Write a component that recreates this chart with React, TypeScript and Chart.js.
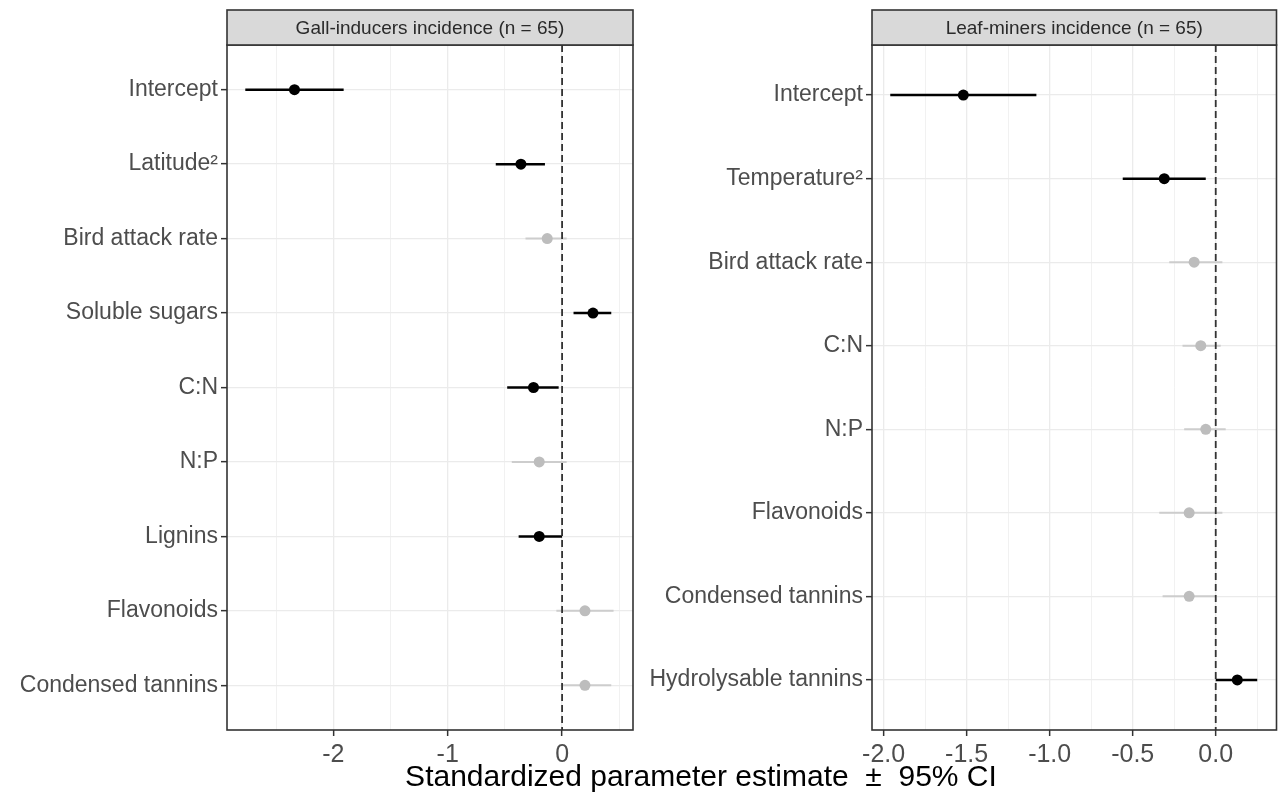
import React, { useEffect, useRef } from "react";
import { Chart, registerables } from "chart.js";

Chart.register(...registerables);

// ---------- Data ----------
const LEFT_TITLE = "Gall-inducers incidence (n = 65)";
const LEFT_LABELS = [
  "Intercept",
  "Latitude²",
  "Bird attack rate",
  "Soluble sugars",
  "C:N",
  "N:P",
  "Lignins",
  "Flavonoids",
  "Condensed tannins",
];
const LEFT_EST = [-2.34, -0.36, -0.13, 0.27, -0.25, -0.2, -0.2, 0.2, 0.2];
const LEFT_LO = [-2.77, -0.58, -0.32, 0.1, -0.48, -0.44, -0.38, -0.05, -0.01];
const LEFT_HI = [-1.91, -0.15, 0.04, 0.43, -0.03, 0.04, 0.0, 0.45, 0.43];
const LEFT_SIG = [true, true, false, true, true, false, true, false, false];
const LEFT_MAJOR = [-2, -1, 0];
const LEFT_MINOR = [-2.5, -1.5, -0.5, 0.5];
const LEFT_RANGE = [-2.93, 0.62];

const RIGHT_TITLE = "Leaf-miners incidence (n = 65)";
const RIGHT_LABELS = [
  "Intercept",
  "Temperature²",
  "Bird attack rate",
  "C:N",
  "N:P",
  "Flavonoids",
  "Condensed tannins",
  "Hydrolysable tannins",
];
const RIGHT_EST = [-1.52, -0.31, -0.13, -0.09, -0.06, -0.16, -0.16, 0.13];
const RIGHT_LO = [-1.96, -0.56, -0.28, -0.2, -0.19, -0.34, -0.32, 0.0];
const RIGHT_HI = [-1.08, -0.06, 0.04, 0.03, 0.06, 0.04, 0.0, 0.25];
const RIGHT_SIG = [true, true, false, false, false, false, false, true];
const RIGHT_MAJOR = [-2, -1.5, -1, -0.5, 0];
const RIGHT_MINOR = [-1.75, -1.25, -0.75, -0.25, 0.25];
const RIGHT_RANGE = [-2.07, 0.366];

const X_TITLE = "Standardized parameter estimate ± 95% CI";

// ---------- Styles ----------
const FONT = "'Liberation Sans', Arial, sans-serif";
const SIG_COLOR = "#000000";
const NS_POINT = "#bdbdbd";
const NS_LINE = "#cdcdcd";
const FRAME = "#333333";
const GRID = "#ebebeb";

type PanelProps = {
  title: string;
  labels: string[];
  est: number[];
  lo: number[];
  hi: number[];
  sig: boolean[];
  major: number[];
  minor: number[];
  range: number[];
  decimals: number;
  width: number;
  height: number;
  yAxisWidth: number;
  padRight: number;
};

const stripPlugin = {
  id: "stripFrame",
  afterDraw(chart: any, _args: any, opts: any) {
    const { ctx, chartArea } = chart;
    const { left, right, top, bottom } = chartArea;
    ctx.save();
    ctx.strokeStyle = FRAME;
    ctx.lineWidth = 1.6;
    ctx.strokeRect(left, top, right - left, bottom - top);
    const sTop = 10;
    ctx.fillStyle = "#d9d9d9";
    ctx.fillRect(left, sTop, right - left, top - sTop);
    ctx.strokeRect(left, sTop, right - left, top - sTop);
    ctx.fillStyle = "#2a2a2a";
    ctx.font = `19px ${FONT}`;
    ctx.textAlign = "center";
    ctx.textBaseline = "middle";
    ctx.fillText(opts.title, (left + right) / 2, (sTop + top) / 2 + 1);
    ctx.restore();
  },
};

function Panel(p: PanelProps) {
  const ref = useRef<HTMLCanvasElement | null>(null);
  useEffect(() => {
    if (!ref.current) return;
    const n = p.labels.length;
    const yMin = 0.4;
    const yMax = n + 0.6;
    const tickVals = [...p.major, ...p.minor].sort((a, b) => a - b);
    const isMajor = (v: number) => p.major.some((m) => Math.abs(m - v) < 1e-9);

    const ciSets = p.labels.map((_, i) => ({
      type: "line" as const,
      data: [
        { x: p.lo[i], y: i + 1 },
        { x: p.hi[i], y: i + 1 },
      ],
      borderColor: p.sig[i] ? SIG_COLOR : NS_LINE,
      borderWidth: p.sig[i] ? 2.5 : 2,
      pointRadius: 0,
      order: 3,
    }));

    const chart = new Chart(ref.current, {
      type: "scatter",
      data: {
        datasets: [
          {
            type: "scatter" as const,
            data: p.est.map((x, i) => ({ x, y: i + 1 })),
            backgroundColor: p.sig.map((s) => (s ? SIG_COLOR : NS_POINT)),
            borderWidth: 0,
            pointRadius: 5.5,
            order: 1,
          },
          {
            type: "line" as const,
            data: [
              { x: 0, y: yMin },
              { x: 0, y: yMax },
            ],
            borderColor: FRAME,
            borderWidth: 1.8,
            borderDash: [7, 4],
            pointRadius: 0,
            order: 2,
          },
          ...ciSets,
        ] as any,
      },
      options: {
        animation: false,
        responsive: false,
        maintainAspectRatio: false,
        layout: { padding: { top: 45, right: p.padRight, left: 0, bottom: 30 } },
        plugins: {
          legend: { display: false },
          tooltip: { enabled: false },
          stripFrame: { title: p.title },
        } as any,
        scales: {
          x: {
            type: "linear",
            min: p.range[0],
            max: p.range[1],
            afterBuildTicks: (scale: any) => {
              scale.ticks = tickVals.map((v) => ({ value: v }));
            },
            afterFit: (scale: any) => {
              scale.height = p.height - 730 - 30;
            },
            ticks: {
              autoSkip: false,
              maxRotation: 0,
              padding: 4,
              color: "#4d4d4d",
              font: { family: FONT, size: 25 },
              callback: (v: any) => (isMajor(Number(v)) ? Number(v).toFixed(p.decimals) : ""),
            },
            grid: {
              color: GRID,
              lineWidth: (ctx: any) => (isMajor(ctx.tick?.value) ? 1.3 : 0.7),
              tickColor: (ctx: any) => (isMajor(ctx.tick?.value) ? FRAME : "rgba(0,0,0,0)"),
              tickLength: 6,
              tickWidth: 1.5,
              drawTicks: true,
            },
            border: { display: false },
          },
          y: {
            type: "linear",
            reverse: true,
            min: yMin,
            max: yMax,
            afterBuildTicks: (scale: any) => {
              scale.ticks = p.labels.map((_, i) => ({ value: i + 1 }));
            },
            afterFit: (scale: any) => {
              scale.width = p.yAxisWidth;
            },
            ticks: {
              autoSkip: false,
              padding: 3,
              color: "#4d4d4d",
              font: { family: FONT, size: 23 },
              callback: (v: any) => p.labels[Math.round(Number(v)) - 1] ?? "",
            },
            grid: {
              color: GRID,
              lineWidth: 1.3,
              tickColor: FRAME,
              tickLength: 6,
              tickWidth: 1.5,
              drawTicks: true,
            },
            border: { display: false },
          },
        },
      } as any,
      plugins: [stripPlugin],
    });
    return () => chart.destroy();
  }, []);
  return (
    <canvas
      ref={ref}
      width={p.width}
      height={p.height}
      style={{ width: p.width, height: p.height, display: "block" }}
    />
  );
}

export default function App() {
  return (
    <div
      style={{
        position: "absolute",
        left: 0,
        top: 0,
        width: 1282,
        height: 802,
        background: "#ffffff",
        overflow: "hidden",
      }}
    >
      <div style={{ position: "absolute", left: 0, top: 0 }}>
        <Panel
          title={LEFT_TITLE}
          labels={LEFT_LABELS}
          est={LEFT_EST}
          lo={LEFT_LO}
          hi={LEFT_HI}
          sig={LEFT_SIG}
          major={LEFT_MAJOR}
          minor={LEFT_MINOR}
          range={LEFT_RANGE}
          decimals={0}
          width={640}
          height={802}
          yAxisWidth={227}
          padRight={7}
        />
      </div>
      <div style={{ position: "absolute", left: 640, top: 0 }}>
        <Panel
          title={RIGHT_TITLE}
          labels={RIGHT_LABELS}
          est={RIGHT_EST}
          lo={RIGHT_LO}
          hi={RIGHT_HI}
          sig={RIGHT_SIG}
          major={RIGHT_MAJOR}
          minor={RIGHT_MINOR}
          range={RIGHT_RANGE}
          decimals={1}
          width={642}
          height={802}
          yAxisWidth={232}
          padRight={4}
        />
      </div>
      <div
        style={{
          position: "absolute",
          left: 701,
          top: 760,
          transform: "translateX(-50%)",
          whiteSpace: "pre",
          fontFamily: FONT,
          fontSize: 30,
          lineHeight: "32px",
          color: "#000",
        }}
      >
        {X_TITLE.replace(" ± ", "  ±  ")}
      </div>
    </div>
  );
}
